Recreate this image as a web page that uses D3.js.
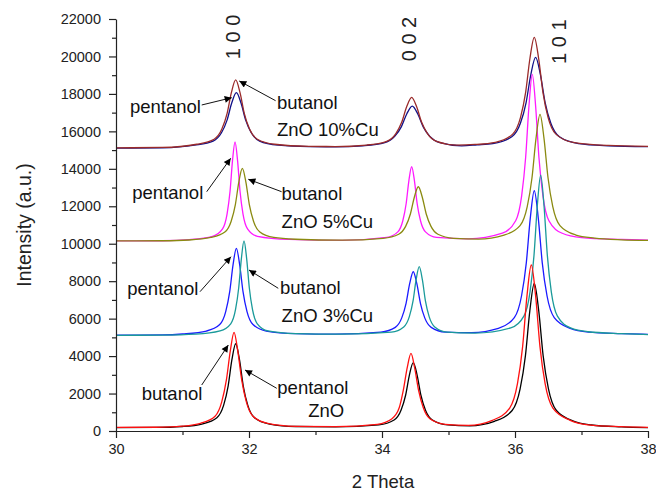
<!DOCTYPE html>
<html><head><meta charset="utf-8">
<script src="https://cdn.jsdelivr.net/npm/d3@7"></script>
<style>body{margin:0;background:#fff} svg{display:block} text{font-family:"Liberation Sans",Arial,sans-serif}</style>
</head><body><svg id="c" width="656" height="491"></svg>
<script>
// ---- axis ticks ----
const xTicks = [30, 32, 34, 36, 38];
const xMinor = [31, 33, 35, 37];
const yTicks = [0, 2000, 4000, 6000, 8000, 10000, 12000, 14000, 16000, 18000, 20000, 22000];
const yMinor = [1000, 3000, 5000, 7000, 9000, 11000, 13000, 15000, 17000, 19000, 21000];

// ---- series: [2theta, intensity] ----
const zno_butanol = [[30,190],[30.6,200],[31.0,260],
 [31.27,409],[31.49,791],[31.59,1554],[31.66,2725],[31.72,4303],[31.775,5270],[31.83,4303],[31.89,2725],[31.96,1554],[32.06,791],[32.28,409],
 [32.7,250],[33.3,230],
 [33.93,359],[34.15,656],[34.26,1251],[34.32,2164],[34.38,3394],[34.436,4148],[34.49,3394],[34.55,2164],[34.62,1251],[34.72,656],[34.95,359],
 [35.3,300],
 [35.66,571],[35.92,1222],[36.037,2524],[36.115,4522],[36.18,7213],[36.245,8863],[36.31,7213],[36.375,4522],[36.453,2524],[36.57,1222],[36.83,571],
 [37.1,330],[37.6,230],[38,190]];
const zno_pentanol = [[30,180],[30.6,190],[31.0,240],
 [31.291,372],[31.517,709],[31.619,1382],[31.687,2415],[31.743,3807],[31.8,4660],[31.857,3807],[31.913,2415],[31.981,1382],[32.083,709],[32.309,372],
 [32.7,240],[33.3,220],
 [33.952,326],[34.182,587],[34.286,1109],[34.355,1909],[34.412,2986],[34.47,3647],[34.528,2986],[34.585,1909],[34.654,1109],[34.758,587],[34.988,326],
 [35.32,280],
 [35.691,517],[35.957,1095],[36.077,2252],[36.157,4025],[36.223,6415],[36.29,7880],[36.357,6415],[36.423,4025],[36.503,2252],[36.623,1095],[36.889,517],
 [37.15,320],[37.6,220],[38,180]];
const cu3_pentanol = [[30,5120],[30.7,5130],[31.0,5180],
 [31.36,5338],[31.56,5684],[31.65,6377],[31.71,7440],[31.76,8872],[31.81,9750],[31.86,8872],[31.91,7440],[31.97,6377],[32.06,5684],[32.26,5338],
 [32.7,5200],[33.3,5170],
 [33.984,5282],[34.2,5535],[34.297,6041],[34.362,6818],[34.416,7864],[34.47,8505],[34.524,7864],[34.578,6818],[34.643,6041],[34.74,5535],[34.956,5282],
 [35.35,5250],
 [35.75,5477],[35.99,6054],[36.098,7209],[36.17,8980],[36.23,11367],[36.29,12830],[36.35,11367],[36.41,8980],[36.482,7209],[36.59,6054],[36.83,5477],
 [37.1,5280],[37.6,5200],[38,5160]];
const cu3_butanol = [[30,5110],[30.7,5120],[31.2,5170],
 [31.565,5346],[31.725,5724],[31.797,6478],[31.845,7635],[31.885,9194],[31.925,10150],[31.965,9194],[32.005,7635],[32.053,6478],[32.125,5724],[32.285,5346],
 [32.7,5200],[33.4,5170],
 [34.141,5284],[34.327,5558],[34.411,6106],[34.467,6946],[34.513,8078],[34.56,8772],[34.607,8078],[34.653,6946],[34.709,6106],[34.793,5558],[34.979,5284],
 [35.4,5230],
 [35.936,5505],[36.136,6146],[36.226,7428],[36.286,9394],[36.336,12044],[36.386,13668],[36.436,12044],[36.486,9394],[36.546,7428],[36.636,6146],[36.836,5505],
 [37.1,5300],[37.6,5200],[38,5150]];
const cu5_pentanol = [[30,10150],[30.7,10160],[31.1,10220],
 [31.452,10398],[31.602,10794],[31.67,11586],[31.715,12800],[31.752,14437],[31.79,15440],[31.828,14437],[31.865,12800],[31.91,11586],[31.978,10794],[32.128,10398],
 [32.6,10230],[33.4,10180],
 [34.072,10338],[34.238,10634],[34.313,11227],[34.363,12135],[34.404,13360],[34.446,14110],[34.488,13360],[34.529,12135],[34.579,11227],[34.654,10634],[34.82,10338],
 [35.3,10260],
 [35.81,10560],[36.01,11226],[36.1,12559],[36.16,14603],[36.21,17357],[36.26,19045],[36.31,17357],[36.36,14603],[36.42,12559],[36.51,11226],[36.71,10560],
 [37.0,10330],[37.6,10230],[38,10190]];
const cu5_butanol = [[30,10150],[30.7,10160],[31.1,10200],
 [31.427,10334],[31.637,10624],[31.732,11204],[31.795,12093],[31.847,13291],[31.9,14025],[31.953,13291],[32.005,12093],[32.068,11204],[32.163,10624],[32.373,10334],
 [32.7,10240],[33.4,10190],
 [34.015,10290],[34.251,10506],[34.357,10938],[34.428,11602],[34.487,12495],[34.546,13043],[34.605,12495],[34.664,11602],[34.735,10938],[34.841,10506],[35.077,10290],
 [35.45,10250],
 [35.836,10464],[36.076,10970],[36.184,11983],[36.256,13535],[36.316,15628],[36.376,16910],[36.436,15628],[36.496,13535],[36.568,11983],[36.676,10970],[36.916,10464],
 [37.2,10300],[37.6,10210],[38,10180]];
const cu10_pentanol = [[30,15100],[30.7,15120],
 [31.18,15262],[31.46,15483],[31.586,15924],[31.67,16600],[31.74,17511],[31.81,18070],[31.88,17511],[31.95,16600],[32.034,15924],[32.16,15483],[32.44,15262],
 [32.9,15180],[33.3,15170],
 [33.712,15230],[34.042,15396],[34.191,15729],[34.29,16240],[34.372,16928],[34.455,17350],[34.538,16928],[34.62,16240],[34.719,15729],[34.868,15396],[35.198,15230],
 [35.43,15280],
 [35.666,15347],[35.952,15708],[36.081,16431],[36.167,17540],[36.238,19034],[36.31,19950],[36.382,19034],[36.453,17540],[36.539,16431],[36.668,15708],[36.954,15347],
 [37.4,15230],[38,15180]];
const cu10_butanol = [[30,15120],[30.7,15140],
 [31.215,15312],[31.475,15582],[31.592,16122],[31.67,16950],[31.735,18066],[31.8,18750],[31.865,18066],[31.93,16950],[32.008,16122],[32.125,15582],[32.385,15312],
 [32.9,15200],[33.3,15190],
 [33.771,15270],[34.071,15470],[34.206,15870],[34.296,16483],[34.371,17309],[34.446,17815],[34.521,17309],[34.596,16483],[34.686,15870],[34.821,15470],[35.121,15270],
 [35.4,15300],
 [35.705,15414],[35.965,15854],[36.082,16735],[36.16,18085],[36.225,19905],[36.29,21020],[36.355,19905],[36.42,18085],[36.498,16735],[36.615,15854],[36.875,15414],
 [37.4,15250],[38,15200]];

// peak labels [text, 2theta, intensity]
const peakLabels = [["1 0 0", 31.76, 21040], ["0 0 2", 34.406, 20930], ["1 0 1", 36.657, 20790]];
// annotation texts [text, 2theta, intensity]
const noteTexts = [
 ["pentanol",30.21,16980],["butanol",32.42,17194],["ZnO 10%Cu",32.42,15752],
 ["pentanol",30.245,12362],["butanol",32.49,12309],["ZnO 5%Cu",32.49,10824],
 ["pentanol",30.17,7236],["butanol",32.466,7316],["ZnO 3%Cu",32.49,5836],
 ["butanol",30.386,1629],["pentanol",32.426,1976],["ZnO",32.89,764]];
// arrows [from 2theta, from I, to 2theta, to I]
const noteArrows = [
 [31.289,17408,31.74,17798],[32.40,17638,31.854,18690],
 [31.364,12778,31.725,14562],[32.49,12778,31.99,13440],
 [31.263,7438,31.729,9307],[32.44,7620,32.0,8597],
 [31.289,2456,31.689,4592],[32.417,2280,31.94,3257]];

const series = [
 {d: cu10_pentanol, c: "#101088"},
 {d: cu10_butanol, c: "#9a2a2a"},
 {d: cu5_pentanol, c: "#ff1aff"},
 {d: cu5_butanol, c: "#8a8a10"},
 {d: cu3_pentanol, c: "#1a1aff"},
 {d: cu3_butanol, c: "#1a9a9a"},
 {d: zno_pentanol, c: "#000000"},
 {d: zno_butanol, c: "#ff1010"}];

const svg = d3.select("#c");
const x = d3.scaleLinear().domain([30, 38]).range([116, 648]);
const y = d3.scaleLinear().domain([0, 22000]).range([431, 19]);

const defs = svg.append("defs");
defs.append("marker").attr("id","ah").attr("viewBox","0 0 10 10").attr("refX",10).attr("refY",5)
  .attr("markerWidth",9).attr("markerHeight",7).attr("markerUnits","userSpaceOnUse").attr("orient","auto")
  .append("path").attr("d","M0,0L10,5L0,10Z").attr("fill","#000");

const line = d3.line().x(d => x(d[0])).y(d => y(d[1])).curve(d3.curveMonotoneX);
svg.append("g").selectAll("path").data(series).join("path")
  .attr("d", s => line(s.d)).attr("fill","none").attr("stroke", s => s.c).attr("stroke-width",1.3);

// axes
const fs = "14.5px";
const gx = svg.append("g").attr("transform","translate(0,431)")
  .call(d3.axisBottom(x).tickValues(xTicks).tickSize(7).tickPadding(6).tickSizeOuter(0).tickFormat(d3.format("d")));
const gxm = svg.append("g").attr("transform","translate(0,431)")
  .call(d3.axisBottom(x).tickValues(xMinor).tickSize(4).tickFormat(""));
gxm.select(".domain").remove();
const gy = svg.append("g").attr("transform","translate(116,0)")
  .call(d3.axisLeft(y).tickValues(yTicks).tickSize(7).tickPadding(8).tickSizeOuter(0).tickFormat(d3.format("d")));
const gym = svg.append("g").attr("transform","translate(116,0)")
  .call(d3.axisLeft(y).tickValues(yMinor).tickSize(4).tickFormat(""));
gym.select(".domain").remove();
svg.selectAll(".tick line, .domain").attr("stroke","#222").attr("stroke-width",1.2);
svg.selectAll(".tick text").attr("font-size",fs).attr("fill","#222").style("font-family","'Liberation Sans',Arial,sans-serif");

// axis titles
svg.append("text").attr("x",383).attr("y",488).attr("text-anchor","middle").attr("font-size","18.5px").attr("fill","#222").text("2 Theta");
svg.append("text").attr("transform","translate(31,225) rotate(-90)").attr("text-anchor","middle").attr("font-size","19.5px").attr("fill","#222").text("Intensity (a.u.)");

// peak labels
svg.append("g").selectAll("text").data(peakLabels).join("text")
  .attr("transform", d => `translate(${x(d[1])},${y(d[2])}) rotate(-90)`)
  .attr("text-anchor","middle").attr("dominant-baseline","central").attr("font-size","20px").attr("fill","#222")
  .text(d => d[0]);

// annotations
svg.append("g").selectAll("text").data(noteTexts).join("text")
  .attr("x", d => x(d[1])).attr("y", d => y(d[2])).attr("font-size","18.5px").attr("fill","#111").text(d => d[0]);
svg.append("g").selectAll("line").data(noteArrows).join("line")
  .attr("x1", d => x(d[0])).attr("y1", d => y(d[1])).attr("x2", d => x(d[2])).attr("y2", d => y(d[3]))
  .attr("stroke","#111").attr("stroke-width",1).attr("marker-end","url(#ah)");
</script></body></html>
